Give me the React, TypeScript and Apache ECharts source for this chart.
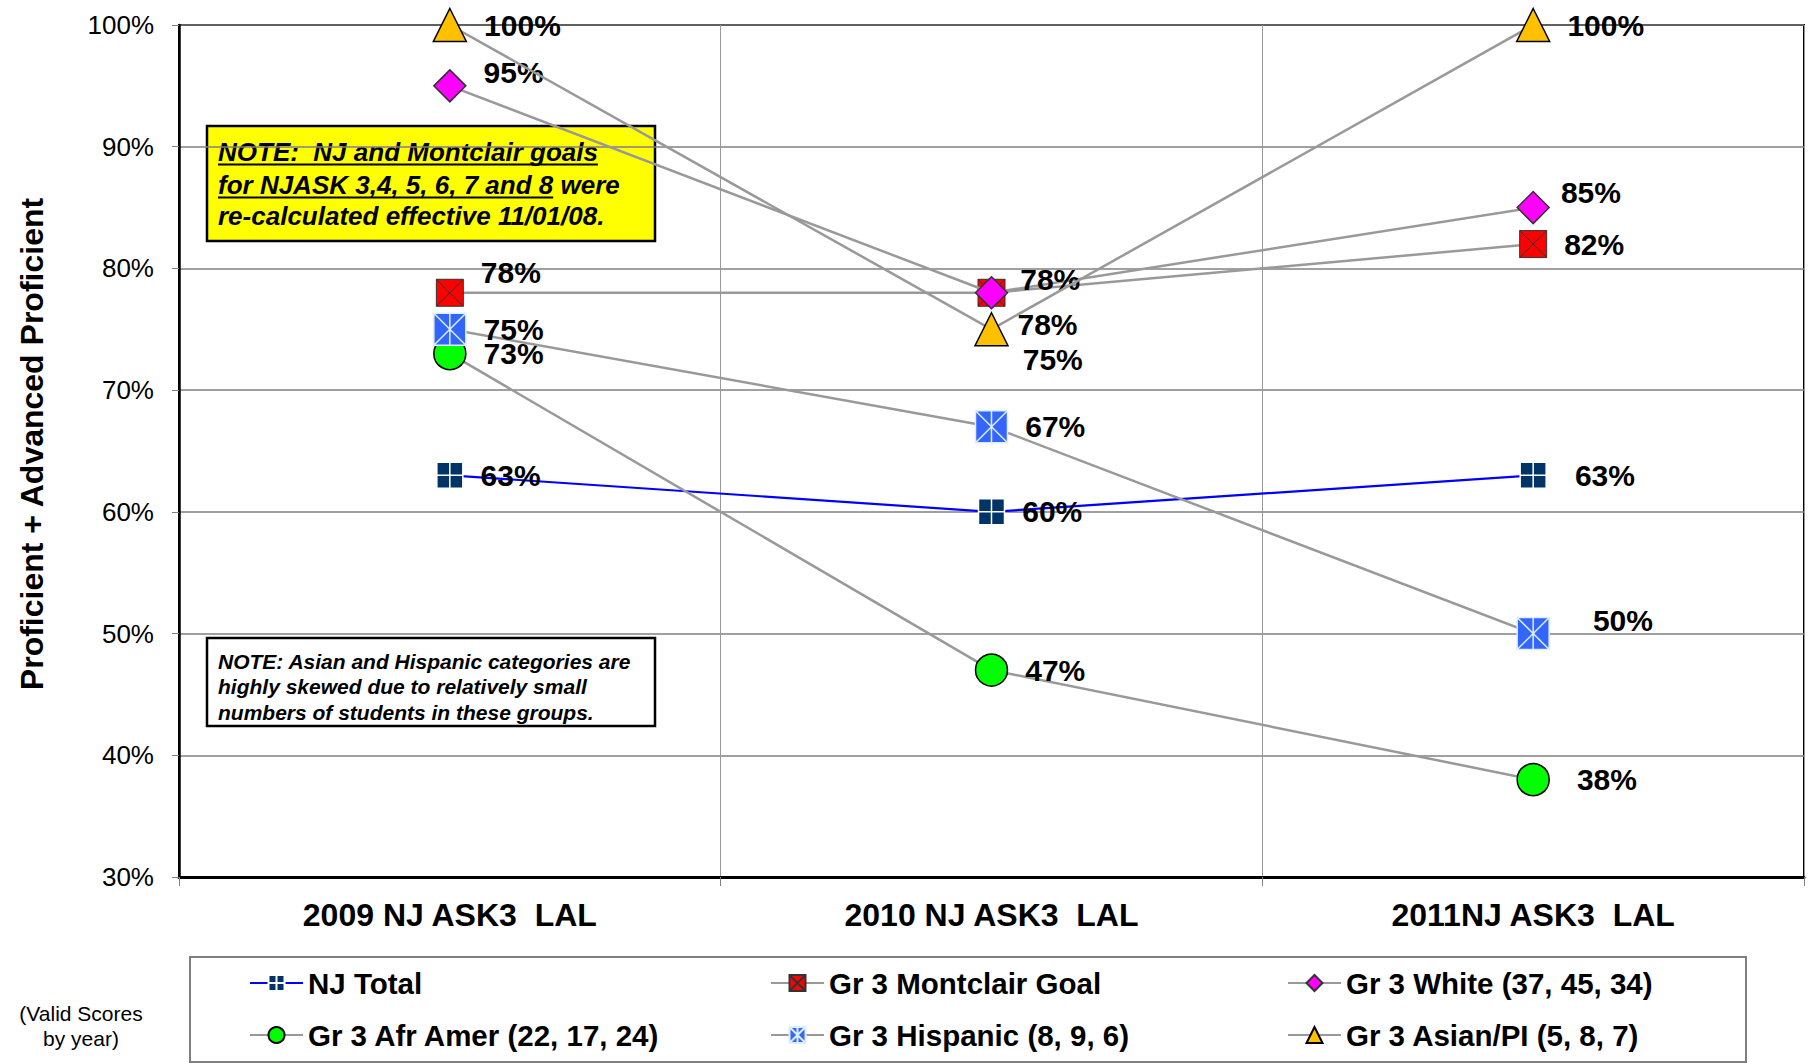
import React, { useEffect, useRef } from 'react';
import * as echarts from 'echarts';

const categories = ['2009 NJ ASK3  LAL', '2010 NJ ASK3  LAL', '2011NJ ASK3  LAL'];
const seriesNames = [
  'NJ Total',
  'Gr 3 Montclair Goal',
  'Gr 3 White (37, 45, 34)',
  'Gr 3 Afr Amer (22, 17, 24)',
  'Gr 3 Hispanic (8, 9, 6)',
  'Gr 3 Asian/PI (5, 8, 7)',
];
const njTotal = [63, 60, 63];
const montclairGoal = [78, 78, 82];
const white = [95, 78, 85];
const afrAmer = [73, 47, 38];
const hispanic = [75, 67, 50];
const asian = [100, 75, 100];
const yMin = 30;
const yMax = 100;
const yStep = 10;

const yAxisTitle = 'Proficient + Advanced Proficient';
const noteYellowLine1 = 'NOTE:  NJ and Montclair goals';
const noteYellowLine2a = 'for NJASK 3,4, 5, 6, 7 and 8';
const noteYellowLine2b = ' were';
const noteYellowLine3 = 're-calculated effective 11/01/08.';
const noteWhiteLines = [
  'NOTE: Asian and Hispanic categories are',
  'highly skewed due to relatively small',
  'numbers of students in these groups.',
];
const validScoresLines = ['(Valid Scores', 'by year)'];

const FONT = '"Liberation Sans", Arial, Helvetica, sans-serif';

// styles (not data)
const SQ = 'M0,0 L10,0 L10,10 L0,10 Z';
const seriesStyles = [
  { symbol: `path://${SQ} M5,0 L5,10 M0,5 L10,5`, size: 26, fill: '#003366', border: '#ffffff', bw: 1.5, line: '#0000FF', lw: 2.2 },
  { symbol: `path://${SQ} M0,0 L10,10 M10,0 L0,10`, size: 27, fill: '#FF0000', border: '#333333', bw: 1, line: '#999999', lw: 2.5 },
  { symbol: 'diamond', size: 32, fill: '#FF00FF', border: '#333333', bw: 1.5, line: '#999999', lw: 2.5 },
  { symbol: 'circle', size: 32, fill: '#00FF00', border: '#000000', bw: 1.5, line: '#999999', lw: 2.5 },
  { symbol: `path://${SQ} M5,0 L5,10 M0,0 L10,10 M10,0 L0,10`, size: 32, fill: '#3366FF', border: '#DDEEFF', bw: 1.5, line: '#999999', lw: 2.5 },
  { symbol: 'triangle', size: 33, fill: '#FFC000', border: '#000000', bw: 1.5, line: '#999999', lw: 2.5 },
];
const labelOffsets = [
  [[0, 0], [0, 0], [11, 0]],
  [[0, -20], [-5, 32], [0, 0]],
  [[0, -13], [-5, -13], [-6, -15]],
  [[0, 0], [0, 0], [10, 0]],
  [[0, 0], [0, 0], [26, -13]],
  [[0, 0], [-3, 30], [0, 0]],
];
const legendSpots = [
  [249, 983], [770, 983], [1287, 983],
  [249, 1035], [770, 1035], [1287, 1035],
];

export default function App() {
  const ref = useRef<HTMLDivElement>(null);

  useEffect(() => {
    if (!ref.current) return;
    const chart = echarts.init(ref.current, undefined, { renderer: 'svg' });

    const ctx = document.createElement('canvas').getContext('2d');
    let u1 = 388;
    let u2 = 341;
    if (ctx) {
      ctx.font = `italic bold 26px ${FONT}`;
      u1 = ctx.measureText(noteYellowLine1).width;
      u2 = ctx.measureText(noteYellowLine2a).width;
    }

    const allValues = [njTotal, montclairGoal, white, afrAmer, hispanic, asian];

    const series = allValues.map((vals, si) => {
      const st = seriesStyles[si];
      return {
        type: 'line',
        name: seriesNames[si],
        data: vals.map((v, i) => ({
          value: v,
          label: { offset: labelOffsets[si][i] },
        })),
        symbol: st.symbol,
        symbolSize: st.size,
        symbolKeepAspect: false,
        itemStyle: { color: st.fill, borderColor: st.border, borderWidth: st.bw },
        lineStyle: { color: st.line, width: st.lw },
        emphasis: { disabled: true },
        silent: true,
        z: 2 + si,
        label: {
          show: true,
          position: 'right',
          distance: 17,
          formatter: '{c}%',
          fontFamily: FONT,
          fontWeight: 'bold',
          fontSize: 30,
          color: '#000',
        },
      };
    });

    const legends = seriesNames.map((n, i) => ({
      data: [n],
      left: legendSpots[i][0],
      top: legendSpots[i][1] - 15,
      padding: 0,
      itemWidth: 53,
      itemHeight: 20,
      selectedMode: false,
      textStyle: { fontFamily: FONT, fontWeight: 'bold', fontSize: 29.5, color: '#000' },
    }));

    const option = {
      animation: false,
      backgroundColor: '#ffffff',
      grid: {
        left: 179,
        top: 25,
        width: 1625,
        height: 852,
        show: true,
        borderColor: '#000',
        borderWidth: 2,
        backgroundColor: 'transparent',
      },
      legend: legends,
      xAxis: {
        type: 'category',
        data: categories,
        boundaryGap: true,
        axisLine: { show: true, lineStyle: { color: '#000', width: 3 } },
        axisTick: { show: true, length: 9, alignWithLabel: false, lineStyle: { color: '#808080', width: 1 } },
        splitLine: { show: true, lineStyle: { color: '#999999', width: 1 } },
        axisLabel: {
          fontFamily: FONT,
          fontWeight: 'bold',
          fontSize: 32,
          color: '#000',
          margin: 22,
        },
      },
      yAxis: {
        type: 'value',
        min: yMin,
        max: yMax,
        interval: yStep,
        name: yAxisTitle,
        nameLocation: 'middle',
        nameRotate: 90,
        nameGap: 131,
        nameTextStyle: {
          fontFamily: FONT,
          fontWeight: 'bold',
          fontSize: 32,
          color: '#000',
          padding: [0, 0, 0, 14],
        },
        axisLine: { show: true, lineStyle: { color: '#000', width: 2.5 } },
        axisTick: { show: true, length: 7, lineStyle: { color: '#808080', width: 1 } },
        splitLine: { show: true, lineStyle: { color: '#808080', width: 1.5 } },
        axisLabel: {
          formatter: '{value}%',
          fontFamily: FONT,
          fontSize: 26,
          color: '#000',
          margin: 25,
        },
      },
      series,
      graphic: [
        {
          type: 'rect',
          z: 100,
          shape: { x: 190, y: 957, width: 1556, height: 105 },
          style: { fill: 'none', stroke: '#808080', lineWidth: 2 },
          silent: true,
        },
        {
          type: 'group',
          z: 100,
          silent: true,
          children: [
            {
              type: 'rect',
              shape: { x: 207, y: 126, width: 448, height: 115 },
              style: { fill: '#FFFF00', stroke: '#000', lineWidth: 2.5 },
            },
            {
              type: 'text',
              x: 218,
              y: 152,
              style: { text: noteYellowLine1, font: `italic bold 26px ${FONT}`, fill: '#000', verticalAlign: 'middle', align: 'left' },
            },
            {
              type: 'text',
              x: 218,
              y: 185,
              style: { text: noteYellowLine2a, font: `italic bold 26px ${FONT}`, fill: '#000', verticalAlign: 'middle', align: 'left' },
            },
            {
              type: 'text',
              x: 218 + u2,
              y: 185,
              style: { text: noteYellowLine2b, font: `italic bold 26px ${FONT}`, fill: '#000', verticalAlign: 'middle', align: 'left' },
            },
            {
              type: 'text',
              x: 218,
              y: 216,
              style: { text: noteYellowLine3, font: `italic bold 26px ${FONT}`, fill: '#000', verticalAlign: 'middle', align: 'left' },
            },
            {
              type: 'line',
              shape: { x1: 218, y1: 164.5, x2: 218 + u1, y2: 164.5 },
              style: { stroke: '#000', lineWidth: 2 },
            },
            {
              type: 'line',
              shape: { x1: 218, y1: 197.5, x2: 218 + u2, y2: 197.5 },
              style: { stroke: '#000', lineWidth: 2 },
            },
          ],
        },
        {
          type: 'group',
          z: 100,
          silent: true,
          children: [
            {
              type: 'rect',
              shape: { x: 207, y: 638, width: 448, height: 88 },
              style: { fill: '#FFFFFF', stroke: '#000', lineWidth: 2.5 },
            },
            ...noteWhiteLines.map((t, i) => ({
              type: 'text',
              x: 218,
              y: 661 + i * 25.5,
              style: { text: t, font: `italic bold 21px ${FONT}`, fill: '#000', verticalAlign: 'middle', align: 'left' },
            })),
          ],
        },
        ...validScoresLines.map((t, i) => ({
          type: 'text',
          z: 100,
          silent: true,
          x: 81,
          y: 1013 + i * 25.5,
          style: { text: t, font: `21px ${FONT}`, fill: '#000', verticalAlign: 'middle', align: 'center' },
        })),
      ],
    };

    chart.setOption(option as any);
    return () => {
      chart.dispose();
    };
  }, []);

  return (
    <div
      ref={ref}
      style={{ position: 'absolute', left: 0, top: 0, width: 1810, height: 1064, background: '#fff' }}
    />
  );
}
